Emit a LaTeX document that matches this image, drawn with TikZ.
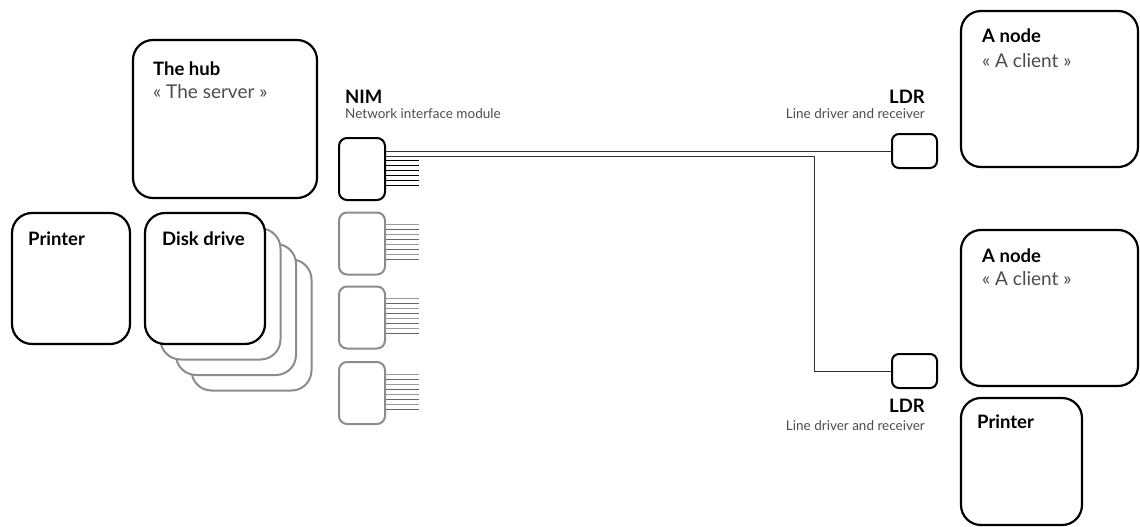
\documentclass[tikz,border=0pt]{standalone}
\usepackage{fontspec}
\setmainfont{Lato}
\begin{document}
\begin{tikzpicture}[x=1pt,y=-1pt,
  bigbox/.style={draw=black,line width=2.2pt,rounded corners=20pt,fill=white,inner sep=0pt},
  ghostbox/.style={draw=black!45,line width=2pt,rounded corners=20pt,fill=white,inner sep=0pt},
  nimbox/.style={draw=black,line width=2pt,rounded corners=8pt,fill=white,inner sep=0pt,minimum width=46pt,minimum height=62pt},
  nimghost/.style={draw=black!45,line width=2pt,rounded corners=8pt,fill=white,inner sep=0pt,minimum width=46pt,minimum height=62pt},
  ldrbox/.style={draw=black,line width=2pt,rounded corners=7pt,fill=white,inner sep=0pt,minimum width=45pt,minimum height=34pt},
  title/.style={font=\bfseries\fontsize{18.5}{18.5}\selectfont,inner sep=0pt},
  sub/.style={font=\fontsize{19}{19}\selectfont,text=black!70,inner sep=0pt},
  small/.style={font=\fontsize{13.5}{13.5}\selectfont,text=black!70,inner sep=0pt},
  wire/.style={draw=black!80,line width=0.8pt},
  pin/.style={draw=black,line width=0.8pt},
  pinA/.style={draw=black!40,line width=0.8pt},
  pinB/.style={draw=black!60,line width=0.8pt}]
\useasboundingbox (0,0) rectangle (1140,527);

% hub
\node[bigbox,minimum width=184pt,minimum height=158pt] (hub) at (225,119) {};
\node[title,anchor=base west] (hubt) at (153,75) {The hub};
\node[sub,anchor=base west] (hubs) at (153,98) {« The server »};

% printer left
\node[bigbox,minimum width=118pt,minimum height=131pt] (pr1) at (71,278.5) {};
\node[title,anchor=base west] (pr1t) at (28,245) {Printer};

% disk drive stack
\node[ghostbox,minimum width=120pt,minimum height=131pt] (dk3) at (251.5,325) {};
\node[ghostbox,minimum width=120pt,minimum height=131pt] (dk2) at (236,309.5) {};
\node[ghostbox,minimum width=120pt,minimum height=131pt] (dk1) at (220.5,294) {};
\node[bigbox,minimum width=120pt,minimum height=131pt] (dk) at (205,278.5) {};
\node[title,anchor=base west] (dkt) at (162,245) {Disk drive};

% NIMs
\node[title,anchor=base west] (nimt) at (345,103) {NIM};
\node[small,anchor=base west] (nims) at (345,118) {Network interface module};
\node[nimbox] (nim) at (362,169) {};
\node[nimghost] (nimg1) at (362,243.5) {};
\node[nimghost] (nimg2) at (362,317.5) {};
\node[nimghost] (nimg3) at (362,393) {};

\foreach \k in {2,...,7}{
  \draw[pin] ([yshift=-13pt-5pt*\k]nim.north east) -- ++(33,0);
}
\foreach \n in {nimg1,nimg2,nimg3}{
  \foreach \k in {0,2,4,6}{
    \draw[pinA] ([yshift=-13pt-5pt*\k]\n.north east) -- ++(33,0);
  }
  \foreach \k in {1,3,5,7}{
    \draw[pinB] ([yshift=-13pt-5pt*\k]\n.north east) -- ++(33,0);
  }
}

% LDRs
\node[ldrbox] (ldr1) at (914.5,151) {};
\node[title,anchor=base east] (ldr1t) at (925,103) {LDR};
\node[small,anchor=base east] (ldr1s) at (925,118) {Line driver and receiver};
\node[ldrbox] (ldr2) at (914.5,371) {};
\node[title,anchor=base east] (ldr2t) at (925,412) {LDR};
\node[small,anchor=base east] (ldr2s) at (925,430) {Line driver and receiver};

% wires
\draw[wire] (nim.east |- ldr1.west) -- (ldr1.west);
\coordinate (bend) at (814,156);
\draw[wire] (nim.east |- bend) -- (bend) |- (ldr2.west);

% clients
\node[bigbox,minimum width=177pt,minimum height=156pt] (cl1) at (1049.5,89) {};
\node[title,anchor=base west] (cl1t) at (982,43) {A node};
\node[sub,anchor=base west] (cl1s) at (982,67) {« A client »};
\node[bigbox,minimum width=177pt,minimum height=156pt] (cl2) at (1049.5,308) {};
\node[title,anchor=base west] (cl2t) at (982,262) {A node};
\node[sub,anchor=base west] (cl2s) at (982,285) {« A client »};
\node[bigbox,minimum width=121pt,minimum height=127pt] (pr2) at (1021.5,461.5) {};
\node[title,anchor=base west] (pr2t) at (977,428) {Printer};
\end{tikzpicture}
\end{document}
